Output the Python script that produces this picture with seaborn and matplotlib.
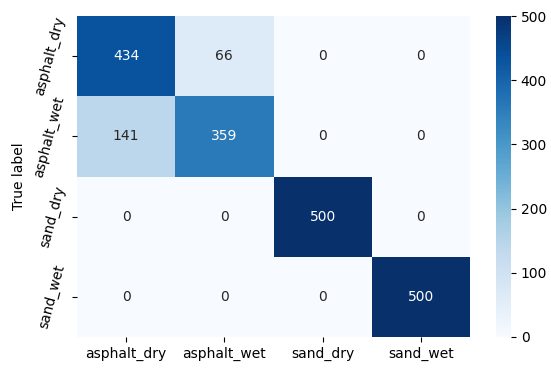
import matplotlib
matplotlib.use("Agg")
import matplotlib.pyplot as plt
import seaborn as sns
import numpy as np
import pandas as pd

labels = ["asphalt_dry", "asphalt_wet", "sand_dry", "sand_wet"]
row_asphalt_dry = [434, 66, 0, 0]
row_asphalt_wet = [141, 359, 0, 0]
row_sand_dry = [0, 0, 500, 0]
row_sand_wet = [0, 0, 0, 500]

cm = pd.DataFrame([row_asphalt_dry, row_asphalt_wet, row_sand_dry, row_sand_wet],
                  index=labels, columns=labels)

W, H = 551, 369
DPI = 100
fig = plt.figure(figsize=(W / DPI, H / DPI), dpi=DPI)
ax = fig.add_axes([77 / W, 1 - 337 / H, (470 - 77) / W, (337 - 16) / H])
cax = fig.add_axes([496 / W, 1 - 337 / H, (511 - 496) / W, (337 - 16) / H])

sns.heatmap(cm, annot=True, fmt="d", cmap="Blues", ax=ax, cbar_ax=cax,
            annot_kws={"fontsize": 10})
ax.set_ylabel("True label", fontsize=10)
ax.set_xlabel("")
ax.tick_params(labelsize=10)
plt.setp(ax.get_yticklabels(), rotation=75, va="center")
plt.setp(ax.get_xticklabels(), rotation=0)
cax.tick_params(labelsize=10)

fig.savefig("out.png", dpi=DPI)
